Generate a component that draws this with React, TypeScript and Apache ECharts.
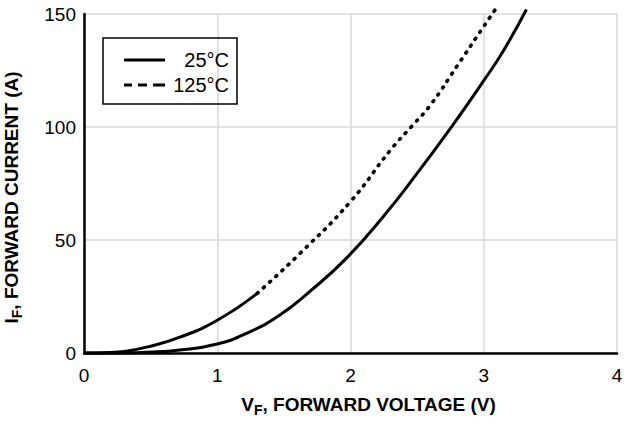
import React, { useEffect, useRef } from "react";
import * as echarts from "echarts";

const xTicks = [0, 1, 2, 3, 4];
const yTicks = [0, 50, 100, 150];

const v25 = [0, 0.3, 0.47, 0.72, 1.0, 1.22, 1.47, 1.7, 1.97, 2.245, 2.5, 2.75, 3.0, 3.15, 3.32];
const i25 = [0, 0.05, 0.3, 1.3, 4.0, 8.7, 16.8, 27.5, 42, 60.3, 79.5, 99.4, 120.5, 134, 152];

const v125a = [0, 0.2, 0.3, 0.47, 0.72, 1.0, 1.3];
const i125a = [0, 0.25, 0.7, 2.6, 7.0, 14.5, 26.4];

const v125b = [1.3, 1.62, 2.0, 2.3, 2.47, 2.6, 2.8, 3.0, 3.11];
const i125b = [26.4, 44, 67, 89.8, 101, 109.7, 127, 144.5, 154];

const FONT = "'Liberation Sans', Arial, sans-serif";

const zip = (a: number[], b: number[]) => a.map((x, k) => [x, b[k]]);

export default function App() {
  const ref = useRef<HTMLDivElement>(null);
  useEffect(() => {
    if (!ref.current) return;
    const chart = echarts.init(ref.current, undefined, { renderer: "svg" });
    const titleRich = {
      a: { fontSize: 19, fontWeight: "bold", color: "#000", fontFamily: FONT },
      s: { fontSize: 14, fontWeight: "bold", color: "#000", fontFamily: FONT, verticalAlign: "bottom", padding: [12, 0, 0, 0] },
    };
    chart.setOption({
      animation: false,
      backgroundColor: "#fff",
      textStyle: { fontFamily: FONT },
      grid: { left: 84, right: 8, top: 14, bottom: 70, containLabel: false, outerBoundsMode: "none" },
      legend: {
        orient: "vertical",
        left: 103,
        top: 38,
        borderColor: "#000",
        borderWidth: 1.5,
        borderRadius: 0,
        padding: [12, 8, 9, 21],
        itemGap: 5,
        itemWidth: 41,
        itemHeight: 14,
        formatter: "{t|{name}}",
        textStyle: {
          color: "#000",
          fontFamily: FONT,
          fontSize: 20,
          rich: { t: { fontSize: 20, lineHeight: 20, width: 59, align: "right", color: "#000", fontFamily: FONT } },
        },
        data: [
          { name: "25°C", icon: "path://M0,0H41V3H0Z" },
          { name: "125°C", icon: "path://M0,0H8V3H0Z M14,0H23V3H14Z M29,0H41V3H29Z" },
        ],
      },
      xAxis: {
        type: "value",
        min: xTicks[0],
        max: xTicks[xTicks.length - 1],
        interval: 1,
        axisLine: { show: true, onZero: false, lineStyle: { color: "#000", width: 2.5 } },
        axisTick: { show: false },
        axisLabel: { fontSize: 19, color: "#000", margin: 13, fontFamily: FONT },
        splitLine: { show: true, lineStyle: { color: "#d9d9d9", width: 1.5 } },
        name: "{a|V}{s|F}{a|, FORWARD VOLTAGE (V)}",
        nameLocation: "middle",
        nameGap: 38,
        nameTextStyle: { rich: titleRich, padding: [0, 0, 0, 36] },
      },
      yAxis: {
        type: "value",
        min: yTicks[0],
        max: yTicks[yTicks.length - 1],
        interval: 50,
        axisLine: { show: true, lineStyle: { color: "#000", width: 2.5 } },
        axisTick: { show: false },
        axisLabel: { fontSize: 19, color: "#000", margin: 8, fontFamily: FONT },
        splitLine: { show: true, lineStyle: { color: "#d9d9d9", width: 1.5 } },
        name: "{a|I}{s|F}{a|, FORWARD CURRENT (A)}",
        nameLocation: "middle",
        nameGap: 60,
        nameTextStyle: { rich: titleRich, padding: [0, 28, 0, 0] },
      },
      series: [
        {
          name: "25°C",
          type: "line",
          data: zip(v25, i25),
          smooth: 0.5,
          showSymbol: false,
          clip: false,
          lineStyle: { color: "#000", width: 3 },
          itemStyle: { color: "#000" },
        },
        {
          name: "125°C low",
          type: "line",
          data: zip(v125a, i125a),
          smooth: 0.5,
          showSymbol: false,
          clip: false,
          lineStyle: { color: "#000", width: 3 },
          itemStyle: { color: "#000" },
        },
        {
          name: "125°C",
          type: "line",
          data: zip(v125b, i125b),
          smooth: 0.5,
          showSymbol: false,
          clip: false,
          lineStyle: { color: "#000", width: 3.6, type: [1.2, 7.2], cap: "round" },
          itemStyle: { color: "#000" },
        },
      ],
    });
    return () => chart.dispose();
  }, []);
  return <div ref={ref} style={{ width: 625, height: 423, position: "absolute", left: 0, top: 0 }} />;
}
